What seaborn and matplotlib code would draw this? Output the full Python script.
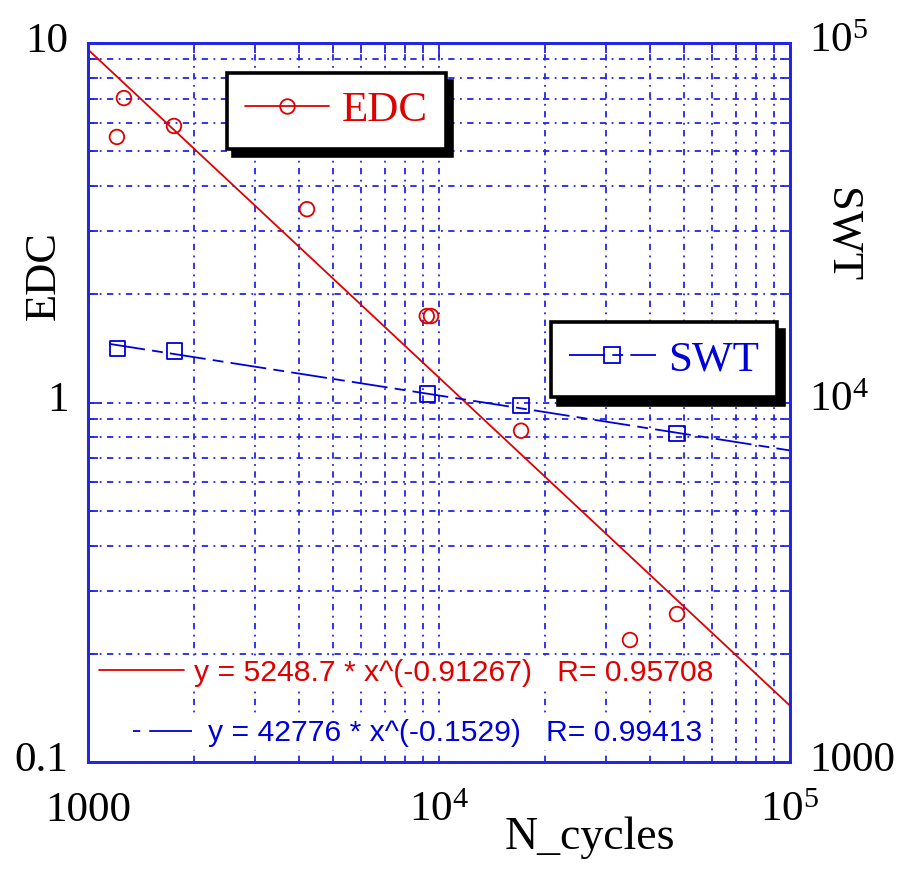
import numpy as np
import matplotlib
matplotlib.use("Agg")
import matplotlib.pyplot as plt
import matplotlib.transforms as mtransforms
import seaborn as sns
from matplotlib.lines import Line2D
from matplotlib.ticker import FixedLocator, FixedFormatter, LogLocator, NullFormatter

# data
edc_cycles = [1209, 1266, 1758, 4207, 9230, 9490, 17130, 35000, 47650]
edc_values = [5.48, 7.03, 5.88, 3.45, 1.74, 1.74, 0.835, 0.2185, 0.258]

swt_cycles = [1212, 1762, 9286, 17130, 47700]
swt_values = [14150, 13910, 10560, 9800, 8210]

# power law fits printed on the chart
edc_fit = (5248.7, -0.91267, 0.95708)
swt_fit = (42776, -0.1529, 0.99413)
edc_fit_range = [1000, 100000]
swt_fit_range = [1150, 100000]

RED = "#e00000"
BLUE = "#0000d8"
GRID = "#2424e8"

sns.set_style("white")
plt.rcParams["font.family"] = ["Liberation Serif", "DejaVu Serif"]
plt.rcParams["mathtext.fontset"] = "custom"
plt.rcParams["mathtext.rm"] = "Liberation Serif"
plt.rcParams["text.color"] = "black"
plt.rcParams["axes.labelcolor"] = "black"

fig = plt.figure(figsize=(9.04, 8.73), dpi=100)
ax = fig.add_axes([0.0973, 0.1271, 0.7766, 0.8236])
ax2 = ax.twinx()

for a in (ax, ax2):
    a.set_xscale("log")
    a.set_yscale("log")
    a.set_xlim(1000, 100000)

ax.set_ylim(0.1, 10)
ax2.set_ylim(1000, 100000)

# fit lines
fx = np.array(edc_fit_range, dtype=float)
sns.lineplot(x=fx, y=edc_fit[0] * fx ** edc_fit[1], ax=ax, color=RED, lw=1.3)
sx = np.array(swt_fit_range, dtype=float)
swt_dash = (0, (20, 4, 6, 4))
sns.lineplot(x=sx, y=swt_fit[0] * sx ** swt_fit[1], ax=ax2, color=BLUE, lw=1.3,
             linestyle=swt_dash)

# data points
sns.scatterplot(x=edc_cycles, y=edc_values, ax=ax, marker="o", s=110,
                color=RED, facecolor="none", edgecolor=RED, linewidth=1.3, zorder=4)
sns.scatterplot(x=swt_cycles, y=swt_values, ax=ax2, marker="s", s=125,
                color=BLUE, facecolor="none", edgecolor=BLUE, linewidth=1.3, zorder=4)

# ticks and grid
ax.xaxis.set_major_locator(FixedLocator([1000, 10000, 100000]))
ax.xaxis.set_major_formatter(FixedFormatter(["1000", r"$\mathregular{10^4}$", r"$\mathregular{10^5}$"]))
ax.yaxis.set_major_locator(FixedLocator([0.1, 1, 10]))
ax.yaxis.set_major_formatter(FixedFormatter(["0.1", "1", "10"]))
ax2.yaxis.set_major_locator(FixedLocator([1000, 10000, 100000]))
ax2.yaxis.set_major_formatter(FixedFormatter(["1000", r"$\mathregular{10^4}$", r"$\mathregular{10^5}$"]))
for axis in (ax.xaxis, ax.yaxis, ax2.yaxis, ax2.xaxis):
    axis.set_minor_locator(LogLocator(base=10, subs=np.arange(2, 10)))
    axis.set_minor_formatter(NullFormatter())

ax.tick_params(axis="both", which="both", direction="in", colors=GRID, labelcolor="black",
               labelsize=31, top=True, right=False, width=1.3)
ax.tick_params(axis="x", which="both", pad=21)
ax.tick_params(axis="y", which="both", pad=14)
ax.tick_params(which="major", length=10)
ax.tick_params(which="minor", length=7)
ax2.tick_params(axis="y", which="both", direction="in", colors=GRID, labelcolor="black",
                labelsize=31, pad=14, width=1.3)
ax2.tick_params(which="major", length=10)
ax2.tick_params(which="minor", length=7)
ax2.tick_params(axis="x", which="both", top=False, bottom=False, labelbottom=False)

# y tick labels sit a little above their ticks in the original
lift = mtransforms.ScaledTranslation(0, 4.5 / 72, fig.dpi_scale_trans)
for lbl in ax.get_yticklabels() + ax2.get_yticklabels():
    lbl.set_transform(lbl.get_transform() + lift)

ax.grid(True, which="both", color=GRID, lw=1.3, linestyle=(0, (3.5, 3, 1, 3)))
ax.set_axisbelow(True)

for a in (ax, ax2):
    for sp in a.spines.values():
        sp.set_color(GRID)
        sp.set_linewidth(2)

# axis labels
ax.set_xlabel("N_cycles", fontsize=33)
ax.xaxis.set_label_coords(0.715, -0.076)
ax.set_ylabel("EDC", fontsize=32)
ax.yaxis.set_label_coords(-0.035, 0.676)
ax2.set_ylabel("SWT", fontsize=32, rotation=270, va="bottom")
ax2.yaxis.set_label_coords(1.044, 0.733)

# series legends with black drop shadows
shadow = {"color": "black", "alpha": 1, "ox": 4.5, "oy": -5.5}
h_edc = Line2D([], [], color=RED, lw=1.3, marker="o", ms=10.5, mfc="none", mec=RED, mew=1.3)
leg1 = ax2.legend([h_edc], ["EDC"], loc="upper left", bbox_to_anchor=(0.198, 0.958),
                  fontsize=31, labelcolor=RED, frameon=True, fancybox=False, shadow=shadow,
                  edgecolor="black", facecolor="white", framealpha=1, borderpad=0.42,
                  handlelength=1.95, handletextpad=0.3, numpoints=1, borderaxespad=0)
leg1.get_frame().set_linewidth(2.6)
ax2.add_artist(leg1)

h_swt = Line2D([], [], color=BLUE, lw=1.3, linestyle=swt_dash, marker="s", ms=11,
               mfc="none", mec=BLUE, mew=1.3)
leg2 = ax2.legend([h_swt], ["SWT"], loc="upper left", bbox_to_anchor=(0.660, 0.612),
                  fontsize=31, labelcolor=BLUE, frameon=True, fancybox=False, shadow=shadow,
                  edgecolor="black", facecolor="white", framealpha=1, borderpad=0.42,
                  handlelength=2.0, handletextpad=0.3, numpoints=1, borderaxespad=0)
leg2.get_frame().set_linewidth(2.6)
ax2.add_artist(leg2)

# fit equations
eq_font = {"family": ["Liberation Sans", "DejaVu Sans"], "size": 21.7}
edc_label = f"y = {edc_fit[0]} * x^({edc_fit[1]})   R= {edc_fit[2]}"
swt_label = f"y = {swt_fit[0]} * x^({swt_fit[1]})   R= {swt_fit[2]}"
leg3 = ax2.legend([Line2D([], [], color=RED, lw=1.3)], [edc_label], loc="center left",
                  bbox_to_anchor=(0.012, 0.124), prop=eq_font, labelcolor=RED,
                  frameon=True, fancybox=False, edgecolor="none", facecolor="white",
                  framealpha=1, borderpad=0.1, handlelength=2.8, handletextpad=0.35,
                  borderaxespad=0)
ax2.add_artist(leg3)
leg4 = ax2.legend([Line2D([], [], color=BLUE, lw=1.3, linestyle=(0, (4, 5, 30, 2)))],
                  [swt_label], loc="center left", bbox_to_anchor=(0.06, 0.040),
                  prop=eq_font, labelcolor=BLUE, frameon=True, fancybox=False,
                  edgecolor="none", facecolor="white", framealpha=1, borderpad=0.1,
                  handlelength=1.95, handletextpad=0.55, borderaxespad=0)

fig.savefig("out.png", dpi=100)
